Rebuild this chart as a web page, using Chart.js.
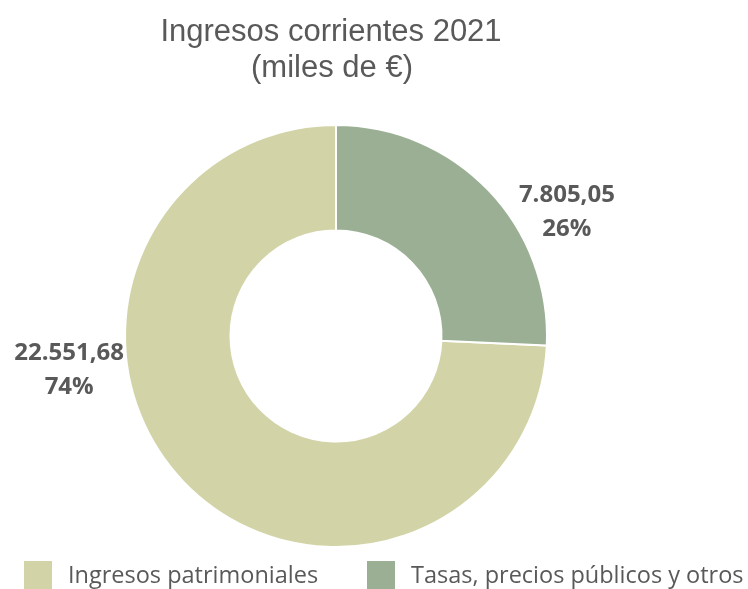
<!DOCTYPE html>
<html>
<head>
<meta charset="utf-8">
<script src="https://cdn.jsdelivr.net/npm/chart.js@4"></script>
<style>
  html, body { margin: 0; padding: 0; background: #fff; }
  #wrap { width: 748px; height: 589px; position: relative; }
</style>
</head>
<body>
<div id="wrap"><canvas id="chart"></canvas></div>
<script>
const titleLines = ['Ingresos corrientes 2021', '(miles de €)'];
const categories = ['Ingresos patrimoniales', 'Tasas, precios públicos y otros'];
const values = [22551.68, 7805.05];
const sliceColors = ['#d2d4a8', '#9baf94'];

const textGray = '#595959';

function fmtNum(v) {
  return v.toLocaleString('de-DE', { minimumFractionDigits: 2, maximumFractionDigits: 2 });
}

const total = values.reduce((a, b) => a + b, 0);
// first slice starts where the last one ends at 12 o'clock
const rotation = 360 * values[values.length - 1] / total;

const extrasPlugin = {
  id: 'extras',
  afterDraw(chart, args, opts) {
    const ctx = chart.ctx;
    ctx.save();

    // title
    ctx.fillStyle = textGray;
    ctx.font = '31px "Liberation Sans", Arial, sans-serif';
    ctx.textAlign = 'center';
    ctx.textBaseline = 'alphabetic';
    ctx.fillText(titleLines[0], 331, 41);
    ctx.fillText(titleLines[1], 332, 77);

    // data labels, placed outside each slice
    const meta = chart.getDatasetMeta(0);
    ctx.font = 'bold 24px "Open Sans", sans-serif';
    ctx.textBaseline = 'middle';
    meta.data.forEach((arc, i) => {
      const pos = opts.labelPos[i];
      const a = pos.angle * Math.PI / 180;
      const x = arc.x + pos.dist * Math.sin(a);
      const y = arc.y - pos.dist * Math.cos(a);
      const pct = Math.round(values[i] / total * 100) + '%';
      ctx.fillText(fmtNum(values[i]), x, y - 17);
      ctx.fillText(pct, x, y + 17);
    });

    // legend
    ctx.font = '23.5px "Open Sans", sans-serif';
    ctx.textAlign = 'left';
    ctx.textBaseline = 'alphabetic';
    opts.legendX.forEach((lx, i) => {
      ctx.fillStyle = sliceColors[i];
      ctx.fillRect(lx, 561, 28, 28);
      ctx.fillStyle = textGray;
      ctx.fillText(categories[i], lx + 44, 583);
    });

    ctx.restore();
  }
};

new Chart(document.getElementById('chart'), {
  type: 'doughnut',
  data: {
    labels: categories,
    datasets: [{
      data: values,
      backgroundColor: sliceColors,
      borderColor: '#ffffff',
      borderWidth: 2,
      hoverOffset: 0
    }]
  },
  options: {
    responsive: true,
    maintainAspectRatio: false,
    animation: false,
    rotation: rotation,
    cutout: '50%',
    layout: { padding: { top: 124, bottom: 41, left: 124, right: 200 } },
    plugins: {
      legend: { display: false },
      tooltip: { enabled: false },
      extras: {
        labelPos: [{ angle: 262.7, dist: 269 }, { angle: 61.8, dist: 262 }],
        legendX: [24, 367]
      }
    }
  },
  plugins: [extrasPlugin]
});
</script>
</body>
</html>
